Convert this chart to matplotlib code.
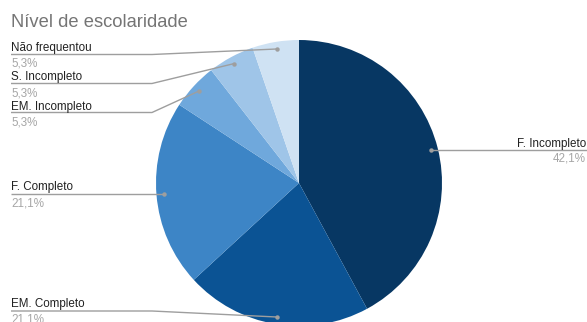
import numpy as np
import matplotlib
matplotlib.use("Agg")
import matplotlib.pyplot as plt

# Survey data: schooling level
categories = ["F. Incompleto", "EM. Completo", "F. Completo",
              "EM. Incompleto", "S. Incompleto", "Não frequentou"]
counts = [8, 4, 4, 1, 1, 1]
colors = ["#073763", "#0b5394", "#3d85c6", "#6fa8dc", "#9fc5e8", "#cfe2f3"]
title = "Nível de escolaridade"

W, H = 587, 322
DPI = 100
fig = plt.figure(figsize=(W / DPI, H / DPI), dpi=DPI)
ax = fig.add_axes([0, 0, 1, 1])

def py(y):
    """Convert a top-down pixel row into the axes' upward y coordinate."""
    return H - y

cx, cy, r = 299, 183, 143
ax.pie(counts, colors=colors, startangle=90, counterclock=False,
       center=(cx, py(cy)), radius=r,
       wedgeprops=dict(linewidth=0))

ax.set_xlim(0, W)
ax.set_ylim(0, H)
ax.set_aspect("auto")
ax.axis("off")

total = sum(counts)
fracs = [c / total for c in counts]
pct_labels = [f"{100 * f:.1f}%".replace(".", ",") for f in fracs]

# anchor dot for each slice: along the mid-angle, just inside the rim
cum = np.cumsum([0] + fracs)
mid = [(cum[i] + cum[i + 1]) / 2 for i in range(len(fracs))]
anchors = []
for m in mid:
    ang = np.deg2rad(90 - 360 * m)
    anchors.append((cx + 0.95 * r * np.cos(ang), cy - 0.95 * r * np.sin(ang)))

font = "Liberation Sans"
label_color = "#222222"
pct_color = "#a6a6a6"
line_color = "#9e9e9e"
fs_label = 8.35
elbow_x = 152

# label layout: (text x, label baseline, line y, pct baseline, side)
layout = {
    "F. Incompleto": (586, 147, 149.5, 161, "right"),
    "EM. Completo": (11, 307, 311, 322, "left"),
    "F. Completo": (11, 190, 194, 206, "left"),
    "EM. Incompleto": (11, 110, 112.5, 125, "left"),
    "S. Incompleto": (11, 80, 83.5, 96, "left"),
    "Não frequentou": (11, 51, 54.5, 66, "left"),
}

for i, name in enumerate(categories):
    tx, by, ly, pb, side = layout[name]
    ax_, ay_ = anchors[i]
    if side == "right":
        xs, ys = [ax_, W], [ly, ly]
        ha = "right"
    else:
        if abs(ay_ - ly) < 2:
            xs, ys = [tx, ax_], [ly, ly]
        else:
            xs, ys = [tx, elbow_x, ax_], [ly, ly, ay_]
        ha = "left"
    ax.plot(xs, [py(v) for v in ys], color=line_color, lw=1.0,
            solid_capstyle="butt", zorder=3)
    ax.plot([ax_], [py(ay_)], "o", color=line_color, ms=3.2, mec="none", zorder=4)
    ax.text(tx, py(by), name, ha=ha, va="baseline", fontsize=fs_label,
            color=label_color, family=font)
    ax.text(tx, py(pb), pct_labels[i], ha=ha, va="baseline", fontsize=fs_label,
            color=pct_color, family=font)

ax.text(11, py(27), title, ha="left", va="baseline", fontsize=13.2,
        color="#757575", family=font)

fig.savefig("out.png", dpi=DPI)
